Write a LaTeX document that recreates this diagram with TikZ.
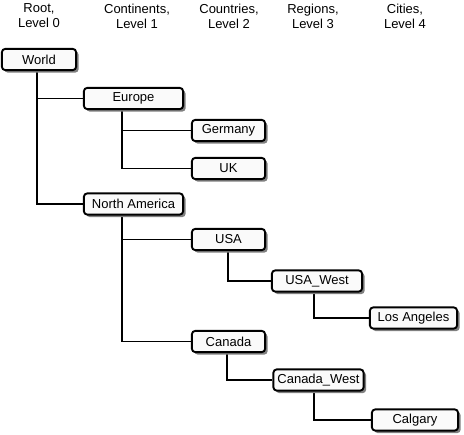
\documentclass[tikz,border=0pt]{standalone}
\usepackage{fontspec}
\setmainfont{Liberation Sans}
\usetikzlibrary{shadows,backgrounds}
\begin{document}
\begin{tikzpicture}[x=1pt,y=-1pt,
  box/.style={draw, line width=1.9pt, rounded corners=3.5pt, fill=black!2,
    minimum height=21.3pt, inner sep=0pt, font=\fontsize{13}{14}\selectfont,
    drop shadow={shadow xshift=2.5pt, shadow yshift=-2.5pt, fill=black!50, opacity=1}},
  link/.style={line width=1.9pt},
  head/.style={align=center, font=\fontsize{13}{15}\selectfont, inner sep=0pt}]
\useasboundingbox (0,0) rectangle (464,435);
% headers
\node[head] (h0) at (39,16) {Root,\\Level 0};
\node[head] (h1) at (137,16) {Continents,\\Level 1};
\node[head] (h2) at (229,16) {Countries,\\Level 2};
\node[head] (h3) at (313,16) {Regions,\\Level 3};
\node[head] (h4) at (405,16) {Cities,\\Level 4};
% nodes
\node[box, minimum width=74.3pt] (world) at (39,59.5) {World};
\node[box, minimum width=99.3pt] (europe) at (133.5,98.5) {Europe};
\node[box, minimum width=73.3pt] (germany) at (228.5,130.5) {Germany};
\node[box, minimum width=73.3pt] (uk) at (228.5,168.5) {UK};
\node[box, minimum width=99.3pt] (na) at (133.5,204) {North America};
\node[box, minimum width=73.3pt] (usa) at (228.5,239.5) {USA};
\node[box, minimum width=90.3pt] (usawest) at (317,281) {USA\_West};
\node[box, minimum width=87.3pt] (la) at (413.5,318) {Los Angeles};
\node[box, minimum width=73.3pt] (canada) at (228.5,341.5) {Canada};
\node[box, minimum width=90.3pt] (canadawest) at (318.5,380) {Canada\_West};
\node[box, minimum width=86.3pt] (calgary) at (415,420) {Calgary};
% connectors
\begin{scope}[on background layer]
\draw[link] ([xshift=36pt]world.south west) |- (europe.west);
\draw[link] ([xshift=36pt]world.south west) |- (na.west);
\draw[link] ([xshift=39pt]europe.south west) |- (germany.west);
\draw[link] ([xshift=39pt]europe.south west) |- (uk.west);
\draw[link] ([xshift=39pt]na.south west) |- (usa.west);
\draw[link] ([xshift=39pt]na.south west) |- (canada.west);
\draw[link] ([xshift=37pt]usa.south west) |- (usawest.west);
\draw[link] ([xshift=43pt]usawest.south west) |- (la.west);
\draw[link] ([xshift=36pt]canada.south west) |- (canadawest.west);
\draw[link] ([xshift=42pt]canadawest.south west) |- (calgary.west);
\end{scope}
\end{tikzpicture}
\end{document}
